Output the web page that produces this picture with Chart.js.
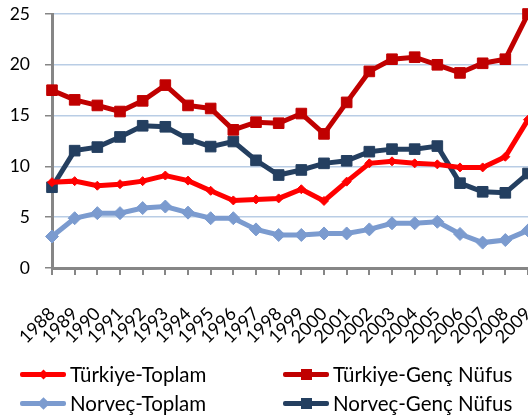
<!DOCTYPE html>
<html>
<head>
<meta charset="utf-8">
<script src="https://cdn.jsdelivr.net/npm/chart.js@4/dist/chart.umd.min.js"></script>
<style>
  html, body { margin: 0; padding: 0; background: #fff; }
  #wrap { position: relative; width: 528px; height: 418px; overflow: hidden; }
  #c { position: absolute; left: 0; top: 0; }
  .lg-line { position: absolute; height: 5px; border-radius: 2px; }
  .lg-mark { position: absolute; }
  .lg-text { position: absolute; font-family: Lato, "Open Sans", sans-serif; font-size: 20.5px; color: #000; white-space: nowrap; line-height: 28px; }
</style>
</head>
<body>
<div id="wrap">
  <canvas id="c" width="528" height="418"></canvas>
  <div id="legend"></div>
</div>
<script>
const years = ["1988","1989","1990","1991","1992","1993","1994","1995","1996","1997","1998","1999","2000","2001","2002","2003","2004","2005","2006","2007","2008","2009"];
const seriesNames = ["Türkiye-Toplam", "Türkiye-Genç Nüfus", "Norveç-Toplam", "Norveç-Genç Nüfus"];
const turkiyeToplam = [8.45, 8.55, 8.1, 8.25, 8.55, 9.1, 8.6, 7.6, 6.65, 6.75, 6.85, 7.75, 6.6, 8.5, 10.3, 10.5, 10.3, 10.2, 9.9, 9.9, 10.95, 14.6];
const turkiyeGenc = [17.5, 16.55, 16.0, 15.4, 16.45, 18.0, 16.0, 15.7, 13.6, 14.35, 14.25, 15.2, 13.2, 16.3, 19.35, 20.55, 20.75, 20.0, 19.2, 20.15, 20.55, 25.0];
const norvecToplam = [3.1, 4.9, 5.4, 5.4, 5.9, 6.05, 5.45, 4.9, 4.9, 3.8, 3.25, 3.25, 3.4, 3.4, 3.8, 4.4, 4.4, 4.55, 3.35, 2.5, 2.75, 3.7];
const norvecGenc = [7.95, 11.55, 11.9, 12.9, 14.0, 13.9, 12.7, 11.95, 12.45, 10.6, 9.15, 9.65, 10.3, 10.55, 11.45, 11.7, 11.7, 12.0, 8.35, 7.5, 7.4, 9.3];
const yTicks = [0, 5, 10, 15, 20, 25];

const FONT = 'Lato, "Open Sans", sans-serif';
const AXIS = '#868686';
const GRID = '#b9cde5';

const styles = [
  { color: '#ff0000', style: 'rectRot', radius: 4.5, legendMark: 'diamond', legendSize: 7 },
  { color: '#c00000', style: 'rect', radius: 7.5, legendMark: 'square', legendSize: 11 },
  { color: '#7b9bcf', style: 'rectRot', radius: 6.5, legendMark: 'diamond', legendSize: 9 },
  { color: '#243f60', style: 'rect', radius: 7.5, legendMark: 'square', legendSize: 11 }
];
const seriesData = [turkiyeToplam, turkiyeGenc, norvecToplam, norvecGenc];

const datasets = seriesData.map((d, i) => ({
  label: seriesNames[i],
  data: d,
  borderColor: styles[i].color,
  backgroundColor: styles[i].color,
  borderWidth: 5,
  pointStyle: styles[i].style,
  pointRadius: styles[i].radius,
  pointBorderWidth: 1,
  pointBorderColor: styles[i].color,
  pointBackgroundColor: styles[i].color,
  tension: 0,
  fill: false,
  clip: false
}));

new Chart(document.getElementById('c'), {
  type: 'line',
  data: { labels: years, datasets: datasets },
  options: {
    responsive: false,
    animation: false,
    devicePixelRatio: 1,
    layout: { autoPadding: false, padding: { top: 14, left: 0, right: 0, bottom: 0 } },
    plugins: { legend: { display: false }, tooltip: { enabled: false } },
    scales: {
      x: {
        offset: false,
        grid: { drawOnChartArea: false, drawTicks: true, tickLength: 7, tickColor: AXIS, lineWidth: 2 },
        border: { color: AXIS, width: 3 },
        ticks: {
          autoSkip: false, maxRotation: 45, minRotation: 45, padding: 28,
          color: '#000', font: { family: FONT, size: 18 }
        },
        afterFit: (s) => { s.height = 150; s.paddingLeft = 0; s.paddingRight = 0; }
      },
      y: {
        min: 0, max: 25,
        afterBuildTicks: (s) => { s.ticks = yTicks.map(v => ({ value: v })); },
        grid: { color: GRID, lineWidth: 1.5, tickColor: AXIS, tickLength: 7, drawTicks: true },
        border: { color: AXIS, width: 3 },
        ticks: { padding: 15, color: '#000', font: { family: FONT, size: 17.5 } },
        afterFit: (s) => { s.width = 52; s.paddingTop = 0; s.paddingBottom = 0; }
      }
    }
  }
});

// HTML legend built from the dataset names/styles
const legendPos = [
  { x: 20, y: 374 }, { x: 283, y: 374 },
  { x: 20, y: 403 }, { x: 283, y: 403 }
];
const lg = document.getElementById('legend');
seriesNames.forEach((name, i) => {
  const p = legendPos[i];
  const st = styles[i];
  const line = document.createElement('div');
  line.className = 'lg-line';
  line.style.left = p.x + 'px';
  line.style.top = (p.y - 2.5) + 'px';
  line.style.width = '46px';
  line.style.background = st.color;
  lg.appendChild(line);
  const m = document.createElement('div');
  m.className = 'lg-mark';
  const sz = st.legendSize;
  m.style.width = sz + 'px';
  m.style.height = sz + 'px';
  m.style.left = (p.x + 23 - sz / 2) + 'px';
  m.style.top = (p.y - sz / 2) + 'px';
  m.style.background = st.color;
  if (st.legendMark === 'diamond') m.style.transform = 'rotate(45deg)';
  lg.appendChild(m);
  const t = document.createElement('div');
  t.className = 'lg-text';
  t.textContent = name;
  t.style.left = (p.x + 50) + 'px';
  t.style.top = (p.y - 14) + 'px';
  lg.appendChild(t);
});
</script>
</body>
</html>
